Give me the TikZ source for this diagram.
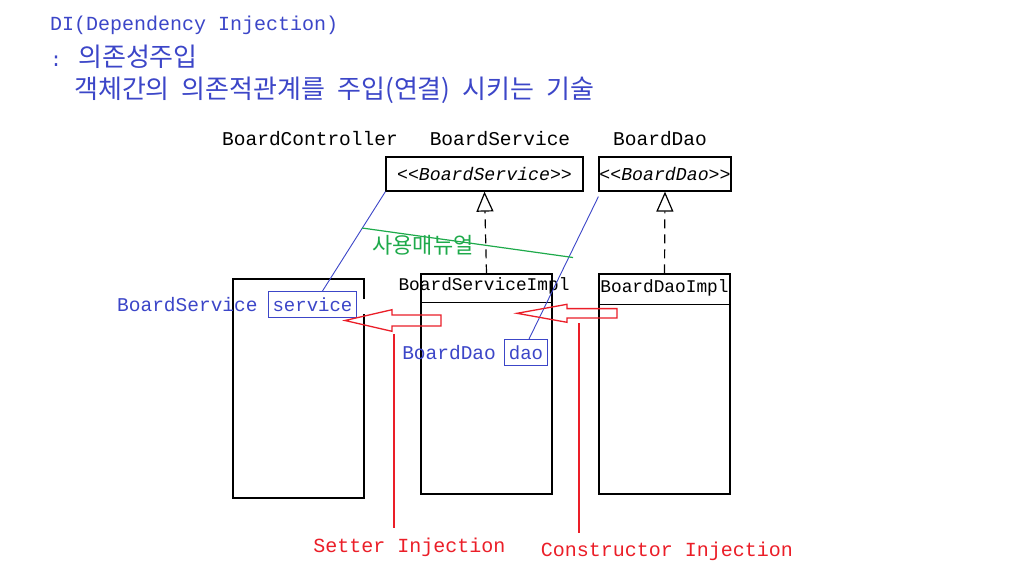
\documentclass[tikz,border=0pt]{standalone}
\usepackage{fontspec}
\setmainfont{Liberation Mono}
\newfontfamily\kr{Noto Sans CJK KR}
\usetikzlibrary{arrows,arrows.meta,shapes}
\usetikzlibrary{calc,positioning}
\definecolor{diblue}{RGB}{60,70,200}
\definecolor{dired}{RGB}{235,30,40}
\definecolor{digreen}{RGB}{30,170,75}
\newcommand{\krtext}[1]{{\kr\fontsize{26}{30}\selectfont #1}}
\tikzstyle{title}=[anchor=west,inner sep=0pt,text=diblue,font=\fontsize{20}{24}\selectfont]
\tikzstyle{classname}=[inner sep=0pt,font=\fontsize{19.5}{23}\selectfont]
\tikzstyle{interface}=[draw,line width=1.2pt,minimum height=34pt,inner sep=0pt,font=\fontsize{18.2}{22}\selectfont\itshape]
\tikzstyle{implbox}=[draw,line width=1.2pt,minimum width=131pt,minimum height=220pt,inner sep=0pt]
\tikzstyle{implname}=[inner sep=0pt,font=\fontsize{17.8}{21}\selectfont]
\tikzstyle{field}=[draw=diblue,line width=1pt,text=diblue,inner xsep=4.3pt,inner ysep=0pt,minimum height=26pt,font=\fontsize{19}{23}\selectfont]
\tikzstyle{fieldtype}=[inner sep=0pt,text=diblue,font=\fontsize{19.5}{23}\selectfont]
\tikzstyle{refline}=[draw=diblue,line width=0.9pt]
\tikzstyle{manualline}=[draw=digreen,line width=1.2pt]
\tikzstyle{realize}=[draw,line width=1.2pt,dash pattern=on 9pt off 6pt,-{Triangle[open,length=20pt,width=17pt]}]
\tikzstyle{injarrow}=[draw=dired,line width=1.3pt]
\tikzstyle{injection}=[inner sep=0pt,text=dired,font=\fontsize{20}{24}\selectfont]

\begin{document}
\begin{tikzpicture}[x=1pt,y=-1pt]
    \fill[white] (0,0) rectangle (1035,574);
    \useasboundingbox (0,0) rectangle (1035,574);

    % Title lines
    \node[title] (dititle) at (50,25) {DI(Dependency Injection)};
    \node[title] (dimean) at (50,57) {: \krtext{의존성주입}};
    \node[title] (didesc) at (74,90) {\krtext{객체간의} \krtext{의존적관계를} \krtext{주입(연결)} \krtext{시키는} \krtext{기술}};

    % Class names on top
    \foreach \pos/ \name/ \text in {{(310,138.6)/ctrlname/BoardController},{(500,138.6)/svcname/BoardService},{(660,138.6)/daoname/BoardDao}}
        \node[classname] (\name) at \pos {\text};

    % Interfaces
    \node[interface,minimum width=197pt] (svcif) at (484.5,174) {{<}{<}BoardService{>}{>}};
    \node[interface,minimum width=132pt] (daoif) at (665,174) {{<}{<}BoardDao{>}{>}};

    % Controller box, right side left open behind the field
    \draw[line width=1.2pt] (364,299) -- (364,279) -- (233,279) -- (233,498) -- (364,498) -- (364,314);

    % Implementation boxes
    \node[implbox] (svcimpl) at (486.5,384) {};
    \node[implbox] (daoimpl) at (664.5,384) {};
    \draw[line width=1.2pt] ($(svcimpl.north west)+(0,29)$) -- ($(svcimpl.north east)+(0,29)$);
    \draw[line width=1.2pt] ($(daoimpl.north west)+(0,31)$) -- ($(daoimpl.north east)+(0,31)$);
    \node[implname] (svcimplname) at (484,285.7) {BoardServiceImpl};
    \node[implname] (daoimplname) at (664.5,288.3) {BoardDaoImpl};

    % Realization
    \foreach \source/ \dest in {svcimpl/svcif, daoimpl/daoif}
        \path[realize] (\source.north) -- (\dest.south);

    % Fields
    \node[field] (svcfield) at (312.5,304.5) {service};
    \node[fieldtype,left=10pt of svcfield] (svctype) {BoardService};
    \node[field] (daofield) at (526,352.5) {dao};
    \node[fieldtype,left=8pt of daofield] (daotype) {BoardDao};
    \path[refline] (svcif.south west) -- ($(svcfield.north)+(10,0)$);
    \path[refline] ($(daoif.south west)+(0,5)$) -- ($(daofield.north)+(3,0)$);

    % Manual line
    \coordinate (manualA) at (362,228);
    \coordinate (manualB) at (573,257.5);
    \path[manualline] (manualA) -- (manualB);
    \node[inner sep=0pt,text=digreen,font=\kr\fontsize{22}{26}\selectfont] (manual) at (423,245) {사용매뉴얼};

    % Injection arrows
    \foreach \tx/ \hx/ \ex/ \y/ \bh/ \hh in {345/392/441/320.5/5.5/10.8, 517/567/617/313.3/4.7/9}
        \draw[injarrow] (\tx,\y) -- (\hx,\y-\hh) -- (\hx,\y-\bh) -- (\ex,\y-\bh) -- (\ex,\y+\bh) -- (\hx,\y+\bh) -- (\hx,\y+\hh) -- cycle;

    \node[injection] (setter) at (409.4,547.3) {Setter Injection};
    \node[injection] (constructor) at (667,551.4) {Constructor Injection};
    \coordinate (setterTop) at (394,334);
    \coordinate (constructorTop) at (579,323);
    \path[injarrow,shorten >=10pt] (setterTop) -- (setterTop |- setter.north);
    \path[injarrow,shorten >=9pt] (constructorTop) -- (constructorTop |- constructor.north);
\end{tikzpicture}
\end{document}
